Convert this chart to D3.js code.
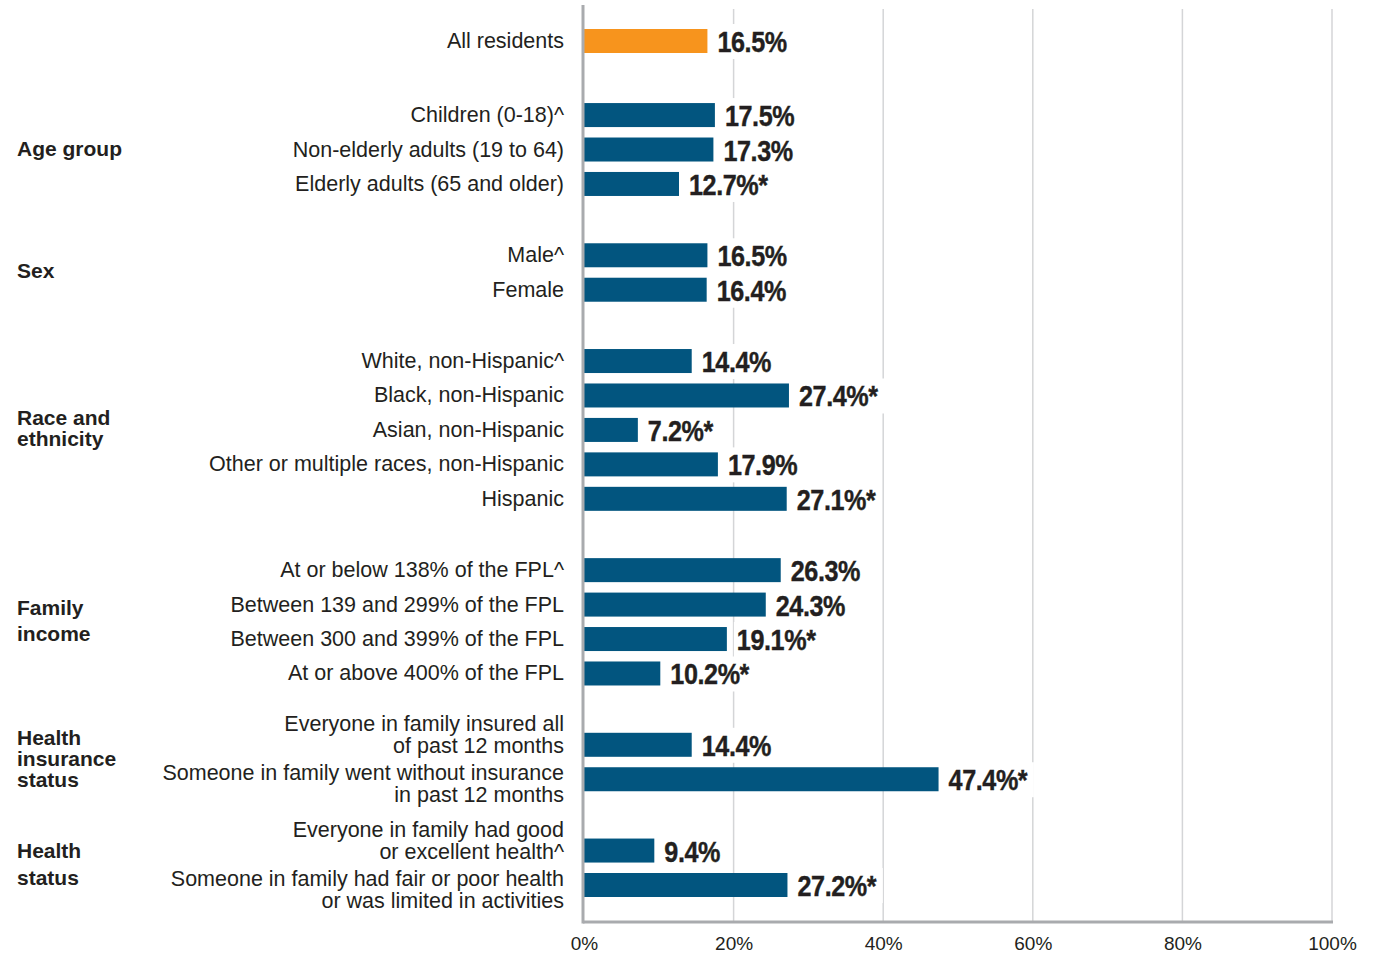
<!DOCTYPE html>
<html>
<head>
<meta charset="utf-8">
<script src="https://cdn.jsdelivr.net/npm/d3@7"></script>
<style>
  html, body { margin: 0; padding: 0; background: #ffffff; }
  svg { display: block; }
  .cat { font-family: "Liberation Sans", Arial, sans-serif; font-size: 21.5px; fill: #231f20; }
  .grp { font-family: "Liberation Sans", Arial, sans-serif; font-size: 21px; font-weight: bold; fill: #231f20; }
  .val { font-family: "Liberation Sans", Arial, sans-serif; font-size: 30px; font-weight: bold; fill: #231f20; stroke: #231f20; stroke-width: 0.4px; }
  .tick text { font-family: "Liberation Sans", Arial, sans-serif; font-size: 19px; fill: #231f20; }
</style>
</head>
<body>
<svg id="chart" width="1380" height="953"></svg>
<script>
// Row labels (multi-line labels split on "\n")
const rowLabels = [
  "All residents",
  "Children (0-18)^",
  "Non-elderly adults (19 to 64)",
  "Elderly adults (65 and older)",
  "Male^",
  "Female",
  "White, non-Hispanic^",
  "Black, non-Hispanic",
  "Asian, non-Hispanic",
  "Other or multiple races, non-Hispanic",
  "Hispanic",
  "At or below 138% of the FPL^",
  "Between 139 and 299% of the FPL",
  "Between 300 and 399% of the FPL",
  "At or above 400% of the FPL",
  "Everyone in family insured all\nof past 12 months",
  "Someone in family went without insurance\nin past 12 months",
  "Everyone in family had good\nor excellent health^",
  "Someone in family had fair or poor health\nor was limited  in activities"
];

// Group index of each row (0 = overall)
const rowGroup = [0, 1, 1, 1, 2, 2, 3, 3, 3, 3, 3, 4, 4, 4, 4, 5, 5, 6, 6];

// Group headings (multi-line split on "\n")
const groupLabels = [
  "",
  "Age group",
  "Sex",
  "Race and\nethnicity",
  "Family\nincome",
  "Health\ninsurance\nstatus",
  "Health\nstatus"
];

// Percent values
const values = [16.5, 17.5, 17.3, 12.7, 16.5, 16.4, 14.4, 27.4, 7.2, 17.9, 27.1,
                26.3, 24.3, 19.1, 10.2, 14.4, 47.4, 9.4, 27.2];

// Statistically significant difference from reference group (*)
const significant = [false, false, false, true, false, false, false, true, true, false, true,
                     false, false, true, true, false, true, false, true];

// Axis ticks
const xTicks = [0, 20, 40, 60, 80, 100];
const xTickLabels = ["0%", "20%", "40%", "60%", "80%", "100%"];

// ---- layout ----
const svg = d3.select("#chart");
const plotLeft = 584, plotRight = 1332;
const axisY = 922, gridTop = 9, axisTop = 5;
const groupGap = 1.07;              // extra slot space between groups
const firstGap = 1.15;              // slightly larger gap below the overall row
const barH = 24;
const catX = 564, grpX = 17;
const catLineGap = 22;
const valScaleX = 0.84;             // condensed look for value labels

const slot = i => i + (rowGroup[i] > 0 ? firstGap + (rowGroup[i] - 1) * groupGap : 0);
const x = d3.scaleLinear().domain([0, 100]).range([plotLeft, plotRight]);
const y = d3.scaleLinear().domain([0, slot(values.length - 1)]).range([41, 885]);

const colorOverall = "#f7941d";
const colorBar = "#02557f";

// gridlines
svg.append("g")
  .selectAll("line")
  .data(xTicks.filter(d => d > 0))
  .join("line")
  .attr("x1", d => x(d)).attr("x2", d => x(d))
  .attr("y1", gridTop).attr("y2", axisY)
  .attr("stroke", "#d4d5d7").attr("stroke-width", 1.5);

// bars
const rows = values.map((v, i) => ({ i, v, label: rowLabels[i], g: rowGroup[i], sig: significant[i] }));
svg.append("g")
  .selectAll("rect")
  .data(rows)
  .join("rect")
  .attr("x", x(0))
  .attr("y", d => y(slot(d.i)) - barH / 2)
  .attr("width", d => x(d.v) - x(0))
  .attr("height", barH)
  .attr("fill", d => d.g === 0 ? colorOverall : colorBar);

// value labels with white backing boxes
const valG = svg.append("g");
rows.forEach(d => {
  const gg = valG.append("g");
  const bg = gg.append("rect").attr("fill", "#ffffff");
  const tx = x(d.v) + 10, ty = y(slot(d.i)) + 11;
  const t = gg.append("text")
    .attr("class", "val")
    .attr("transform", `translate(${tx},${ty}) scale(${valScaleX},1)`)
    .attr("letter-spacing", -0.5)
    .text(d.v.toFixed(1) + "%" + (d.sig ? "*" : ""));
  const w = t.node().getBBox().width * valScaleX;
  bg.attr("x", tx - 3).attr("width", w + 9)
    .attr("y", y(slot(d.i)) - 17).attr("height", 35);
});

// category labels; record each group's text extent for the headings
const catG = svg.append("g");
const groupExtent = {};
rows.forEach(d => {
  const lines = d.label.split("\n");
  const cy = y(slot(d.i));
  let offsets;
  if (lines.length === 1) {
    offsets = [0];
  } else {
    // two-line labels lean away from their neighbouring bar in the pair
    const first = rowGroup[d.i - 1] !== d.g;
    const shift = first ? -10 : 5;
    offsets = lines.map((_, k) => shift + (k - (lines.length - 1) / 2) * catLineGap);
  }
  const t = catG.append("text").attr("class", "cat").attr("text-anchor", "end");
  lines.forEach((ln, k) => {
    const ly = cy + offsets[k];
    t.append("tspan").attr("x", catX).attr("y", ly + 7).text(ln);
    const e = groupExtent[d.g] || (groupExtent[d.g] = [Infinity, -Infinity]);
    e[0] = Math.min(e[0], ly); e[1] = Math.max(e[1], ly);
  });
});

// group headings, centred on their block of row labels
const groupLineGap = { 4: 26, 6: 27 };
const grpG = svg.append("g");
groupLabels.forEach((lab, g) => {
  if (!lab) return;
  const cy = (groupExtent[g][0] + groupExtent[g][1]) / 2 - 1.5;
  const lines = lab.split("\n");
  const lh = groupLineGap[g] || 21;
  const t = grpG.append("text").attr("class", "grp");
  lines.forEach((ln, k) => {
    t.append("tspan").attr("x", grpX)
      .attr("y", cy + (k - (lines.length - 1) / 2) * lh + 7.5)
      .text(ln);
  });
});

// x axis tick labels
const xAxis = d3.axisBottom(x)
  .tickValues(xTicks)
  .tickFormat((d, i) => xTickLabels[i])
  .tickSize(0)
  .tickPadding(14.5);
const ax = svg.append("g").attr("transform", `translate(0,${axisY})`).call(xAxis);
ax.select(".domain").remove();
ax.selectAll(".tick text").attr("fill", "#231f20").attr("font-size", null).attr("font-family", null);

// axis lines
svg.append("line")
  .attr("x1", plotLeft - 1).attr("x2", plotRight + 1)
  .attr("y1", axisY).attr("y2", axisY)
  .attr("stroke", "#a9abae").attr("stroke-width", 3);
svg.append("line")
  .attr("x1", plotLeft - 1).attr("x2", plotLeft - 1)
  .attr("y1", axisTop).attr("y2", axisY + 1.5)
  .attr("stroke", "#a9abae").attr("stroke-width", 3);
</script>
</body>
</html>
